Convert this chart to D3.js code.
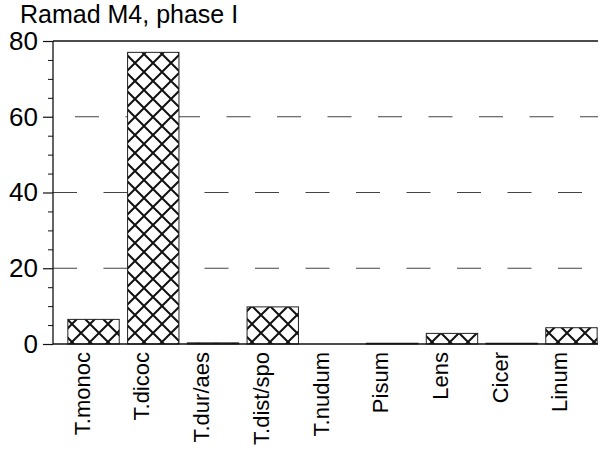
<!DOCTYPE html>
<html><head><meta charset="utf-8">
<script src="https://cdn.jsdelivr.net/npm/d3@7"></script>
<style>body{margin:0;background:#fff;} svg{display:block;}</style>
</head><body>
<svg id="c" width="613" height="453"></svg>
<script>
const categories = ["T.monoc","T.dicoc","T.dur/aes","T.dist/spo","T.nudum","Pisum","Lens","Cicer","Linum"];
const values = [6.5, 77, 0.3, 9.8, 0, 0.2, 2.8, 0.2, 4.3];
const yTicks = [0, 20, 40, 60, 80];
const minorTicks = [5,10,15,25,30,35,45,50,55,65,70,75];
const gridValues = [20, 40, 60];
const title = "Ramad M4, phase I";

(function(){
const svg = d3.select("#c");
const pLeft = 53, pRight = 598, pTop = 41, pBottom = 344;
const font = "'Liberation Sans', Arial, Helvetica, sans-serif";

const y = d3.scaleLinear().domain([0, 80]).range([pBottom, pTop]);
const x = d3.scaleBand().domain(categories).range([55, 610]).paddingInner(0.14).paddingOuter(0.215);

const defs = svg.append("defs");
const pat = defs.append("pattern").attr("id","hatch").attr("patternUnits","userSpaceOnUse")
  .attr("width",18).attr("height",18).attr("x",0).attr("y",0);
pat.append("rect").attr("width",18).attr("height",18).attr("fill","#fff");
pat.append("path").attr("d","M-1,-1 L19,19 M-1,17 L1,19 M17,-1 L19,1 M19,-1 L-1,19 M-1,1 L1,-1 M17,19 L19,17")
  .attr("stroke","#111").attr("stroke-width",2).attr("fill","none");

// gridlines
const phases = {60: 22, 40: 0, 20: 0};
svg.append("g").selectAll("line").data(gridValues).join("line")
  .attr("x1", d => pLeft + phases[d]).attr("x2", pRight)
  .attr("y1", d => y(d)).attr("y2", d => y(d))
  .attr("stroke", "#444").attr("stroke-width", 1.2)
  .attr("stroke-dasharray", "24,26.5");

// bars
svg.append("g").selectAll("rect").data(categories).join("rect")
  .attr("x", d => x(d)).attr("width", x.bandwidth())
  .attr("y", (d,i) => y(values[i])).attr("height", (d,i) => pBottom - y(values[i]))
  .attr("fill", "url(#hatch)").attr("stroke", "#222").attr("stroke-width", 1);

// frame lines
svg.append("line").attr("x1", pLeft).attr("x2", pRight).attr("y1", pTop).attr("y2", pTop)
  .attr("stroke","#111").attr("stroke-width",1.3);
svg.append("line").attr("x1", pLeft).attr("x2", pRight).attr("y1", pBottom).attr("y2", pBottom)
  .attr("stroke","#111").attr("stroke-width",1.3);

// y axis
const yAxis = d3.axisLeft(y).tickValues(yTicks).tickSize(10).tickPadding(5).tickFormat(d3.format("d"));
const ga = svg.append("g").attr("transform", `translate(${pLeft},0)`).call(yAxis);
ga.select(".domain").attr("d", `M0,${pTop}V${pBottom}`).attr("stroke","#111").attr("stroke-width",1.3);
ga.selectAll(".tick line").attr("stroke","#111").attr("stroke-width",1.2);
ga.selectAll(".tick text").attr("font-family", font).attr("font-size", 26).attr("fill","#000");
const ym = d3.axisLeft(y).tickValues(minorTicks).tickSize(5).tickFormat("");
const gm = svg.append("g").attr("transform", `translate(${pLeft},0)`).call(ym);
gm.select(".domain").remove();
gm.selectAll(".tick line").attr("stroke","#111").attr("stroke-width",1);

// x labels
svg.append("g").selectAll("text").data(categories).join("text")
  .attr("transform", d => `translate(${x(d) + x.bandwidth()/2 - 4},352) rotate(-90)`)
  .attr("text-anchor","end")
  .attr("font-family", font).attr("font-size", 22).attr("fill","#000")
  .text(d => d);

// title
svg.append("text").attr("x", 20).attr("y", 23)
  .attr("font-family", font).attr("font-size", 25).attr("fill","#000").text(title);
})();
</script>
</body></html>
